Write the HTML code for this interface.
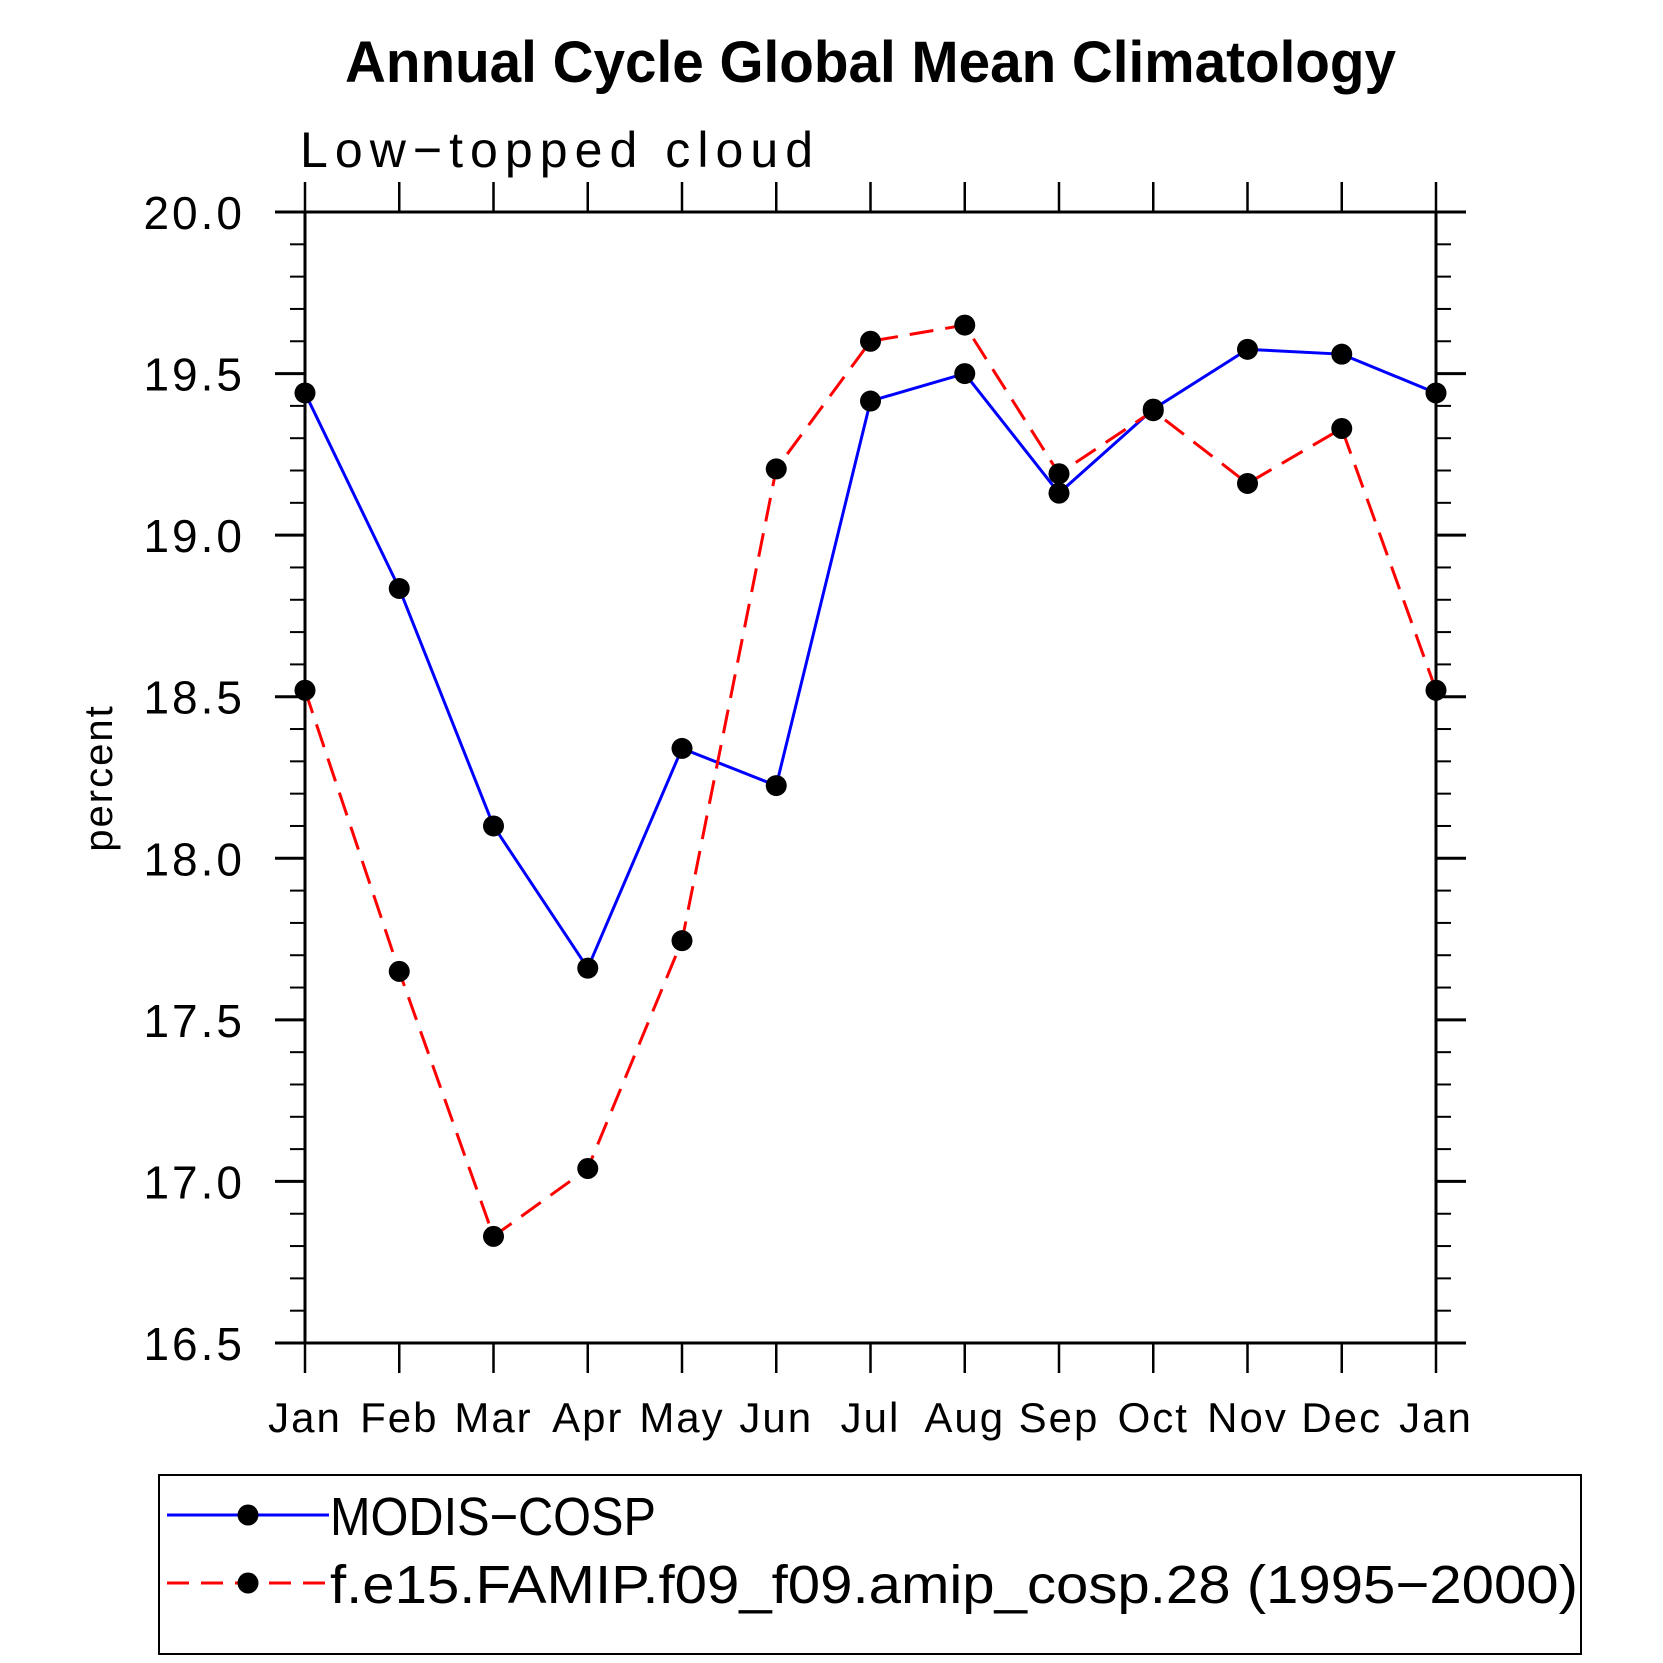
<!DOCTYPE html>
<html><head><meta charset="utf-8"><style>
body{margin:0;background:#fff}
svg{display:block}
text{font-family:"Liberation Sans",sans-serif;fill:#000}
</style></head><body>
<svg id="chart" width="1663" height="1663" viewBox="0 0 1663 1663" xmlns="http://www.w3.org/2000/svg">
<text x="345" y="82" font-size="58" font-weight="bold" textLength="1051" lengthAdjust="spacingAndGlyphs">Annual Cycle Global Mean Climatology</text>
<text x="300" y="167" font-size="50" textLength="513" lengthAdjust="spacing">Low−topped cloud</text>
<text transform="translate(112,778) rotate(-90)" text-anchor="middle" font-size="40" letter-spacing="2">percent</text>
<g id="axes"></g>
<g id="series"></g>
<rect x="159" y="1475" width="1422" height="179" fill="none" stroke="#000" stroke-width="2"/>
<g>
<line x1="167" y1="1515" x2="329" y2="1515" stroke="#0000ff" stroke-width="3"/>
<circle cx="248" cy="1515" r="10.5" fill="#000"/>
<text x="330" y="1535" font-size="54" textLength="326" lengthAdjust="spacingAndGlyphs">MODIS−COSP</text>
</g>
<g>
<line x1="167" y1="1583" x2="329" y2="1583" stroke="#ff0000" stroke-width="3" stroke-dasharray="22,12"/>
<circle cx="248" cy="1583" r="10.5" fill="#000"/>
<text x="330" y="1603" font-size="54" textLength="1248" lengthAdjust="spacingAndGlyphs">f.e15.FAMIP.f09_f09.amip_cosp.28 (1995−2000)</text>
</g>
</svg>
<script>
const months = ["Jan","Feb","Mar","Apr","May","Jun","Jul","Aug","Sep","Oct","Nov","Dec","Jan"];
const modisValues = [19.44,18.835,18.10,17.66,18.34,18.225,19.415,19.50,19.13,19.39,19.575,19.56,19.44];
const modelValues = [18.52,17.65,16.83,17.04,17.745,19.205,19.60,19.65,19.19,19.385,19.16,19.33,18.52];
const yTickLabels = ["16.5","17.0","17.5","18.0","18.5","19.0","19.5","20.0"];

const NS="http://www.w3.org/2000/svg";
const L=305,R=1436,T=212,B=1343,Y0=16.5,Y1=20.0;
const xs=i=>L+(R-L)*i/(months.length-1);
const ys=v=>B-(B-T)*(v-Y0)/(Y1-Y0);
function mk(tag,attrs,parent){const e=document.createElementNS(NS,tag);for(const k in attrs)e.setAttribute(k,attrs[k]);parent.appendChild(e);return e;}
const ax=document.getElementById('axes');
const frame=mk('rect',{x:L,y:T,width:R-L,height:B-T,fill:'none',stroke:'#000','stroke-width':3},ax);


for(let k=0;k<=35;k++){
  const v=Y0+k*0.1, y=ys(v), major=k%5===0;
  const len=major?30:15;
  const t1=mk('line',{x1:L-len,y1:y,x2:L,y2:y,stroke:'#000','stroke-width':major?3:2},ax);
  
  
  const t2=mk('line',{x1:R,y1:y,x2:R+(major?30:15),y2:y,stroke:'#000','stroke-width':major?3:2},ax);
  
  
}
yTickLabels.forEach(s=>{
  const t=mk('text',{x:245,y:ys(parseFloat(s))+17,'text-anchor':'end','font-size':46,'letter-spacing':3},ax);
  t.textContent=s;
  
  
});
months.forEach((m,i)=>{
  const x=xs(i);
  const a=mk('line',{x1:x,y1:T-30,x2:x,y2:T,stroke:'#000','stroke-width':2.5},ax);
  
  
  const b=mk('line',{x1:x,y1:B,x2:x,y2:B+30,stroke:'#000','stroke-width':2.5},ax);
  
  
  const t=mk('text',{x:x,y:1432,'text-anchor':'middle','font-size':42,'letter-spacing':2},ax);
  t.textContent=m;
  
  
});
const sg=document.getElementById('series');
function draw(vals,color,dash,name){
  const pts=vals.map((v,i)=>xs(i)+','+ys(v)).join(' ');
  const pl=mk('polyline',{points:pts,fill:'none',stroke:color,'stroke-width':3},sg);
  if(dash)pl.setAttribute('stroke-dasharray',dash);
  
  
  vals.forEach((v,i)=>{
    const c=mk('circle',{cx:xs(i),cy:ys(v),r:10.5,fill:'#000'},sg);
    
    
  });
}
draw(modisValues,'#0000ff',null,'modis');
draw(modelValues,'#ff0000','24,12','model');
</script>
</body></html>
